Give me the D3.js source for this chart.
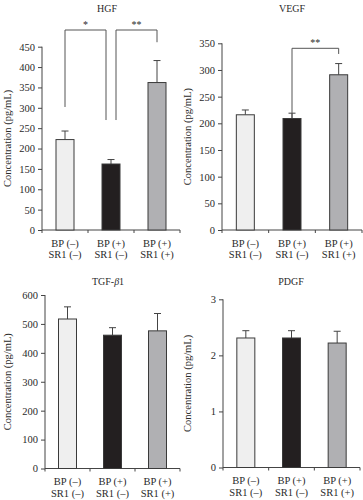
<!DOCTYPE html>
<html>
<head>
<meta charset="utf-8">
<script src="https://cdn.jsdelivr.net/npm/d3@7"></script>
<style>
  body { margin: 0; background: #fff; }
  text { font-family: "Liberation Serif", "DejaVu Serif", serif; fill: #2a2a2a; }
</style>
</head>
<body>
<script>
// data
var groupsTop = ["BP (\u2013)", "BP (+)", "BP (+)"];
var groupsBottom = ["SR1 (\u2013)", "SR1 (\u2013)", "SR1 (+)"];
var barColors = ["#efefef", "#231f20", "#b0b0b3"];

var hgfMean = [222, 162, 362],  hgfErr = [21, 11, 54];
var vegfMean = [216, 209, 291], vegfErr = [9, 10, 21];
var tgfMean = [517, 461, 476],  tgfErr = [42, 26, 60];
var pdgfMean = [2.31, 2.31, 2.22], pdgfErr = [0.13, 0.13, 0.21];

var hgfSig = [{a: 0, b: 1, label: "*"}, {a: 1, b: 2, label: "**"}];
var vegfSig = [{a: 1, b: 2, label: "**"}];

var width = 363, height = 500;

var svg = d3.select("body").append("svg")
    .attr("width", width)
    .attr("height", height);

// panel layout (pixels)
var panels = [
  {title: "HGF", mean: hgfMean, err: hgfErr, max: 450, step: 50,
   x0: 42, x1: 180, y0: 230, y1: 46.7, titleX: 107, titleY: 12, labX: 8,
   sig: hgfSig, sigTop: 30, legs: [[302, 270], [270, 461]], off: 5},
  {title: "VEGF", mean: vegfMean, err: vegfErr, max: 350, step: 50,
   x0: 222, x1: 362, y0: 230, y1: 43.3, titleX: 292, titleY: 12, labX: 188,
   sig: vegfSig, sigTop: 48.3, legs: [[210, 330]], off: 0},
  {title: "TGF-\u03b21", mean: tgfMean, err: tgfErr, max: 600, step: 100,
   x0: 45, x1: 180, y0: 468.5, y1: 295, titleX: 108, titleY: 285, labX: 8,
   sig: [], legs: []},
  {title: "PDGF", mean: pdgfMean, err: pdgfErr, max: 3, step: 1,
   x0: 223, x1: 360, y0: 467.5, y1: 299.3, titleX: 291, titleY: 285, labX: 188,
   sig: [], legs: []}
];

var barW = 18;

panels.forEach(function(p) {
    var g = svg.append("g");
    var idx = [0, 1, 2];

    var x = d3.scalePoint().domain(idx).range([p.x0, p.x1]).padding(0.5);
    var y = d3.scaleLinear().domain([0, p.max]).range([p.y0, p.y1]);
    var stepX = x.step();

    // title
    g.append("text")
        .attr("x", p.titleX)
        .attr("y", p.titleY)
        .attr("text-anchor", "middle")
        .style("font-size", "10px")
        .text(p.title.replace("\u03b21", ""))
        .call(function(t) {
            if (p.title.indexOf("\u03b2") >= 0) {
                t.append("tspan").style("font-style", "italic").text("\u03b2");
                t.append("tspan").text("1");
            }
        });

    // y axis label
    g.append("text")
        .attr("transform", "translate(" + (p.labX + 3) + "," + ((p.y0 + p.y1) / 2) + ") rotate(-90)")
        .attr("text-anchor", "middle")
        .style("font-size", "10.5px")
        .text("Concentration (pg/mL)");

    // y axis
    var yAxis = d3.axisLeft(y)
        .tickValues(d3.range(0, p.max + p.step / 2, p.step))
        .tickSize(4)
        .tickSizeOuter(0)
        .tickFormat(d3.format("d"));
    var ya = g.append("g")
        .attr("transform", "translate(" + p.x0 + ",0)")
        .call(yAxis);
    ya.select(".domain").attr("stroke", "#444").attr("d", "M0," + p.y1 + "V" + (p.y0 + 3));
    ya.selectAll(".tick line").attr("stroke", "#444");
    ya.selectAll(".tick text")
        .attr("x", -7)
        .style("font-size", "10.5px")
        .style("font-family", "Liberation Serif, serif")
        .attr("fill", "#2a2a2a");

    // x axis: line with ticks at group boundaries
    g.append("line")
        .attr("x1", p.x0).attr("x2", p.x1)
        .attr("y1", p.y0).attr("y2", p.y0)
        .attr("stroke", "#444");
    g.selectAll(".xtick")
        .data([1, 2, 3])
        .enter().append("line")
        .attr("class", "xtick")
        .attr("x1", function(d) { return p.x0 + d * stepX; })
        .attr("x2", function(d) { return p.x0 + d * stepX; })
        .attr("y1", p.y0).attr("y2", p.y0 + 3)
        .attr("stroke", "#444");

    // category labels
    var lab = g.selectAll(".xlab")
        .data(idx)
        .enter().append("text")
        .attr("text-anchor", "middle")
        .style("font-size", "10.5px");
    lab.append("tspan")
        .attr("x", function(d) { return x(d); })
        .attr("y", p.y0 + 16.5)
        .text(function(d) { return groupsTop[d]; });
    lab.append("tspan")
        .attr("x", function(d) { return x(d); })
        .attr("y", p.y0 + 28)
        .text(function(d) { return groupsBottom[d]; });

    // error bars (upper only)
    g.selectAll(".err")
        .data(idx)
        .enter().append("path")
        .attr("fill", "none")
        .attr("stroke", "#444")
        .attr("stroke-width", 1)
        .attr("d", function(d) {
            var cx = x(d), top = y(p.mean[d] + p.err[d]);
            return "M" + cx + "," + y(p.mean[d]) + "V" + top +
                   "M" + (cx - 3.5) + "," + top + "H" + (cx + 3.5);
        });

    // bars
    g.selectAll(".bar")
        .data(idx)
        .enter().append("rect")
        .attr("x", function(d) { return x(d) - barW / 2; })
        .attr("y", function(d) { return y(p.mean[d]); })
        .attr("width", barW)
        .attr("height", function(d) { return p.y0 - y(p.mean[d]); })
        .attr("fill", function(d) { return barColors[d]; })
        .attr("stroke", "#3a3a3a")
        .attr("stroke-width", 1);

    // significance brackets
    p.sig.forEach(function(s, i) {
        var xa = x(s.a) + (s.a === 1 ? p.off : 0),
            xb = x(s.b) - (s.b === 1 ? p.off : 0);
        g.append("path")
            .attr("fill", "none")
            .attr("stroke", "#555")
            .attr("d", "M" + xa + "," + y(p.legs[i][0]) + "V" + p.sigTop +
                       "H" + xb + "V" + y(p.legs[i][1]));
        g.append("text")
            .attr("x", (xa + xb) / 2)
            .attr("y", p.sigTop - 2)
            .attr("text-anchor", "middle")
            .style("font-size", "10px")
            .attr("fill", "#777")
            .text(s.label);
    });
});
</script>
</body>
</html>
